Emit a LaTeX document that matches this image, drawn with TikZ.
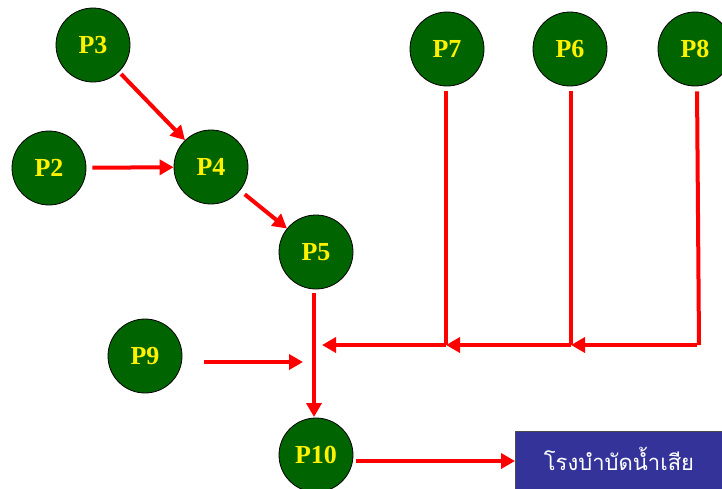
\documentclass[tikz,border=0pt]{standalone}
\usepackage{fontspec}
\setmainfont{Liberation Serif}
\newfontfamily\thaifont[Script=Thai]{Loma}
\usetikzlibrary{arrows.meta}
\definecolor{pgreen}{RGB}{0,100,0}
\definecolor{pblue}{RGB}{51,51,153}
\tikzset{
  proc/.style={circle,draw=black,line width=0.8pt,fill=pgreen,minimum size=74pt,inner sep=0pt,
    text=yellow,font=\fontsize{26}{30}\selectfont\bfseries},
  flow/.style={draw=red,line width=4pt,-{Triangle[length=14pt,width=15pt]}},
  flowline/.style={draw=red,line width=4pt},
  plant/.style={draw=black!70,line width=0.8pt,fill=pblue,text=white,anchor=north west,
    minimum width=230pt,minimum height=70pt,inner sep=0pt}
}
\begin{document}
\begin{tikzpicture}[x=1pt,y=-1pt]
\useasboundingbox (0,0) rectangle (722,488);
\node[proc] (P3) at (93,45) {P3};
\node[proc] (P2) at (49,168) {P2};
\node[proc] (P4) at (211,167) {P4};
\node[proc] (P5) at (316,252) {P5};
\node[proc] (P7) at (447,49) {P7};
\node[proc] (P6) at (570,49) {P6};
\node[proc] (P8) at (695,49) {P8};
\node[proc] (P9) at (145,356) {P9};
\node[proc] (P10) at (316,455) {P10};
\node[plant] (WT) at (515,431) {};
\node[text=white,font=\thaifont\fontsize{22}{26}\selectfont] (WTlabel) at (619,459) {โรงบำบัดน้ำเสีย};
\coordinate (J7) at (446,345);
\coordinate (J6) at (571,345);
\coordinate (J8) at (697,345);
\coordinate (J5) at (322,345);
\coordinate (S9) at (204,362);
\coordinate (E9) at (303,362);
\coordinate (S5) at (314,293);
\coordinate (E5) at (314,417);
% arrows
\draw[flow,shorten <=3pt] (P3) -- (P4);
\draw[flow,shorten <=6pt] (P2) -- (P4);
\draw[flow,shorten <=6pt] (P4) -- (P5);
\draw[flow] (S5) -- (E5);
\draw[flowline,shorten <=5pt] (P7.south -| J7) -- (J7);
\draw[flowline,shorten <=5pt] (P6.south -| J6) -- (J6);
\draw[flowline,shorten <=5pt] (P8.south -| J8) -- ([xshift=2pt]J8);
\draw[flow] (J8) -- (J6);
\draw[flow] (J6) -- (J7);
\draw[flow] (J7) -- (J5);
\draw[flow] (S9) -- (E9);
\draw[flow,shorten <=3pt] (P10.east |- 0,461) -- (WT.west |- 0,461);
\end{tikzpicture}
\end{document}
